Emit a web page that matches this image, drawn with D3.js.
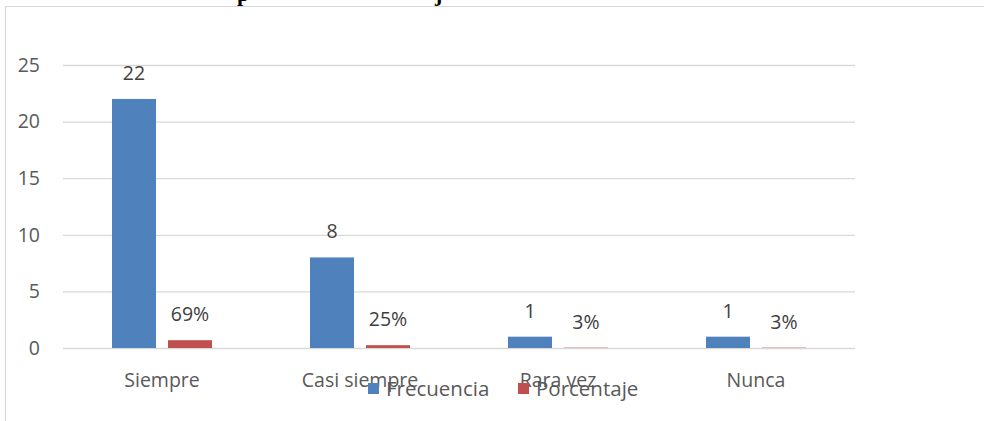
<!DOCTYPE html>
<html>
<head>
<meta charset="utf-8">
<script src="https://cdn.jsdelivr.net/npm/d3@7/dist/d3.min.js"></script>
<style>
html,body{margin:0;padding:0;background:#fff;}
svg{display:block;}
</style>
</head>
<body>
<svg id="chart" width="984" height="421"></svg>
<script>
const categories = ["Siempre", "Casi siempre", "Rara vez", "Nunca"];
const seriesNames = ["Frecuencia", "Porcentaje"];
const frecuencia = [22, 8, 1, 1];
const porcentaje = [0.69, 0.25, 0.03, 0.03];
const porcentajeLabels = ["69%", "25%", "3%", "3%"];
const yTicks = [0, 5, 10, 15, 20, 25];
const colors = ["#4f81bd", "#c0504d"];

const svg = d3.select("#chart");
const font = "'Open Sans', 'Noto Sans', sans-serif";
const textColor = "#595959";
const gridColor = "#d9d9d9";
const fs = 19.5;

// frame (partial chart border)
svg.append("line").attr("x1", 5).attr("x2", 984).attr("y1", 6.5).attr("y2", 6.5)
  .attr("stroke", gridColor).attr("stroke-width", 1.2);
svg.append("line").attr("x1", 5.5).attr("x2", 5.5).attr("y1", 6).attr("y2", 421)
  .attr("stroke", gridColor).attr("stroke-width", 1.2);

// cut-off title descenders above the frame
const titleG = svg.append("g").attr("font-family", "'Liberation Serif', serif")
  .attr("font-weight", "bold").attr("font-size", 22).attr("fill", "#000");
titleG.append("text").attr("x", 237).attr("y", 0.5).text("p");
titleG.append("text").attr("x", 435).attr("y", 0.5).text("j");

const left = 63, right = 855;
const y = d3.scaleLinear().domain([0, 25]).range([348, 65]);
const x0 = d3.scaleBand().domain(categories).range([left, right]).paddingInner(0).paddingOuter(0);
const x1 = d3.scaleBand().domain(seriesNames).range([49, 149]).paddingInner(12 / 56).paddingOuter(0);

// gridlines
const yAxis = d3.axisLeft(y).tickValues(yTicks).tickSize(-(right - left)).tickPadding(23).tickFormat(d3.format("d"));
const gy = svg.append("g").attr("transform", `translate(${left},0)`).call(yAxis);
gy.select(".domain").remove();
gy.selectAll(".tick line").attr("stroke", gridColor).attr("stroke-width", 1.3);
gy.selectAll(".tick text").attr("fill", textColor).attr("font-family", font).attr("font-size", fs);

// bars
const data = categories.map((c, i) => ({cat: c, vals: [
  {s: seriesNames[0], v: frecuencia[i], label: String(frecuencia[i])},
  {s: seriesNames[1], v: porcentaje[i], label: porcentajeLabels[i]}
]}));

const groups = svg.append("g").selectAll("g").data(data).join("g")
  .attr("transform", d => `translate(${x0(d.cat)},0)`);

groups.selectAll("rect").data(d => d.vals).join("rect")
  .attr("x", d => x1(d.s))
  .attr("width", x1.bandwidth())
  .attr("y", d => y(d.v))
  .attr("height", d => y(0) - y(d.v))
  .attr("fill", (d, i) => colors[i]);

groups.selectAll("text.lbl").data(d => d.vals).join("text")
  .attr("class", "lbl")
  .attr("x", d => x1(d.s) + x1.bandwidth() / 2)
  .attr("y", d => y(d.v) - 19)
  .attr("text-anchor", "middle")
  .attr("fill", "#404040")
  .attr("font-family", font).attr("font-size", fs)
  .text(d => d.label);

// x-axis category labels
const xAxis = d3.axisBottom(x0).tickSize(0).tickPadding(0);
const gx = svg.append("g").attr("transform", `translate(0,348)`).call(xAxis);
gx.select(".domain").remove();
gx.selectAll(".tick text").attr("fill", textColor).attr("font-family", font).attr("font-size", fs)
  .attr("dy", 0).attr("y", 39);

// legend
const legendX = [368, 518];
const legend = svg.append("g");
seriesNames.forEach((s, i) => {
  legend.append("rect").attr("x", legendX[i]).attr("y", 383).attr("width", 11).attr("height", 11).attr("fill", colors[i]);
  legend.append("text").attr("x", legendX[i] + 18).attr("y", 396)
    .attr("fill", textColor).attr("font-family", font).attr("font-size", 20.5).text(s);
});
</script>
</body>
</html>
